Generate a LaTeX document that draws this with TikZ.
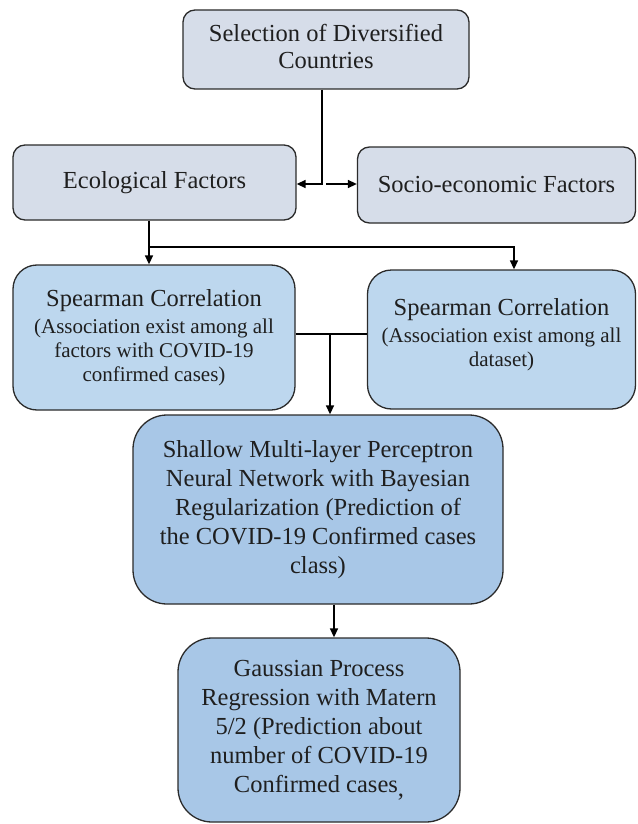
\documentclass[tikz,border=0pt]{standalone}
\usepackage{fontspec}
\setmainfont{Liberation Serif}
\usetikzlibrary{arrows.meta}
\definecolor{boxgray}{HTML}{D6DDE9}
\definecolor{boxlight}{HTML}{BDD7EE}
\definecolor{boxmid}{HTML}{A8C7E7}
\definecolor{edgec}{HTML}{2B2B2B}
\newcommand\subtxt{\fontsize{21}{24}\selectfont}
\begin{document}
\begin{tikzpicture}[x=1pt,y=-1pt,
  box/.style={draw=edgec, line width=1.3pt, align=flush center, inner sep=0pt,
    text=black!88, font=\fontsize{24.5}{29}\selectfont},
  graybox/.style={box, fill=boxgray, rounded corners=12pt},
  lightbox/.style={box, fill=boxlight, rounded corners=24pt},
  midbox/.style={box, fill=boxmid, rounded corners=34pt},
  conn/.style={draw=black, line width=1.5pt},
  arr/.style={conn, -{Triangle[length=9pt,width=8pt]}}]
\useasboundingbox (0,0) rectangle (637,824);

\node[graybox, minimum width=286pt, minimum height=79pt] (sel) at (326,49.5)
  {\raisebox{-3pt}{\begin{tabular}{@{}c@{}}Selection of Diversified\\[-2pt]Countries\end{tabular}}};
\node[graybox, minimum width=283pt, minimum height=75pt] (eco) at (154.5,182.5)
  {Ecological Factors};
\node[graybox, minimum width=278pt, minimum height=76pt] (soc) at (496.5,185)
  {Socio-economic Factors};

\node[lightbox, minimum width=282pt, minimum height=145pt, text width=272pt] (spl) at (154,337.5)
  {Spearman Correlation\par\vspace{3pt}{\subtxt (Association exist among all\\factors with COVID-19\\confirmed cases)\par}};
\node[lightbox, minimum width=268pt, minimum height=139pt, text width=262pt] (spr) at (501.5,339.5)
  {Spearman Correlation\par\vspace{3pt}{\subtxt (Association exist among all\\dataset)\par}\vspace{10pt}};

\node[midbox, minimum width=370pt, minimum height=189pt] (sh) at (318,509.5)
  {Shallow Multi-layer Perceptron\\Neural Network with Bayesian\\Regularization (Prediction of\\the COVID-19 Confirmed cases\\class)};
\node[midbox, minimum width=282pt, minimum height=184pt] (ga) at (319,730)
  {Gaussian Process\\Regression with Matern\\5/2 (Prediction about\\number of COVID-19\\Confirmed cases\raisebox{-0.15em}{,}};

% top -> ecological / socio
\coordinate (j) at (322,184);
\draw[arr] (sel.south -| j) -- (j) -- (eco.east |- j);
\draw[arr] ([xshift=4pt]j) -- (soc.west |- j);

% ecological -> spearman boxes
\coordinate (k) at (149,247);
\coordinate (k2) at (514,247);
\draw[arr] (eco.south -| k) -- (spl.north -| k);
\draw[arr] (k) -- (k2) -- (spr.north -| k2);

% spearman boxes -> shallow
\coordinate (m) at (330,334);
\draw[conn] (spl.east |- m) -- (spr.west |- m);
\draw[arr] (m) -- (sh.north -| m);

% shallow -> gaussian
\coordinate (n) at (334,604);
\draw[arr] (sh.south -| n) -- (ga.north -| n);
\end{tikzpicture}
\end{document}
